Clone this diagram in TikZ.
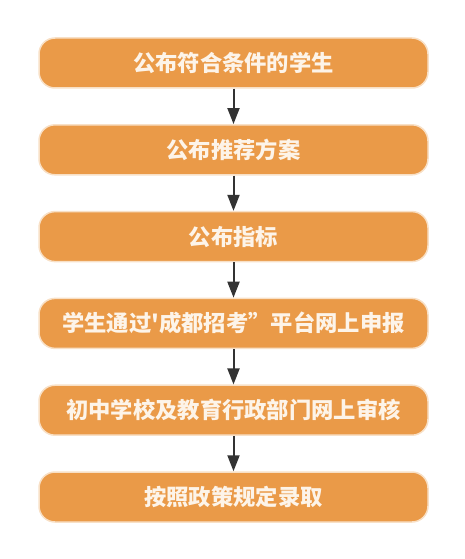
\documentclass[tikz,border=0pt]{standalone}
\usepackage{fontspec}
\newfontfamily\cjk{Noto Sans CJK SC}
\usepackage{tikz}
\usetikzlibrary{arrows.meta, positioning}

\begin{document}
\begin{tikzpicture}[
    x=1pt, y=-1pt,
    stage/.style={rectangle, rounded corners=16pt, draw=edgecolor, line width=1.5pt, fill=stagecolor, minimum width=389pt, minimum height=50pt, text=textcolor, font=\cjk\bfseries\fontsize{22.3pt}{26pt}\selectfont},
    arrow/.style={-{Triangle[width=12pt, length=16pt]}, line width=2pt, arrowcolor}
]

% Colors
\definecolor{stagecolor}{RGB}{234, 154, 72}
\definecolor{edgecolor}{RGB}{248, 224, 198}
\definecolor{textcolor}{RGB}{253, 244, 233}
\definecolor{arrowcolor}{RGB}{51, 51, 51}

\useasboundingbox (0,0) rectangle (465,559);

% Stages
\node[stage] (s1) at (233.5,63) {公布符合条件的学生};
\node[stage] (s2) at (233.5,149.8) {公布推荐方案};
\node[stage] (s3) at (233.5,236.6) {公布指标};
\node[stage] (s4) at (233.5,323.4) {学生通过'成都招考”平台网上申报};
\node[stage] (s5) at (233.5,410.2) {初中学校及教育行政部门网上审核};
\node[stage] (s6) at (233.5,497) {按照政策规定录取};

% Arrows
\draw[arrow] (s1.south) -- (s2.north);
\draw[arrow] (s2.south) -- (s3.north);
\draw[arrow] (s3.south) -- (s4.north);
\draw[arrow] (s4.south) -- (s5.north);
\draw[arrow] (s5.south) -- (s6.north);

\end{tikzpicture}
\end{document}
